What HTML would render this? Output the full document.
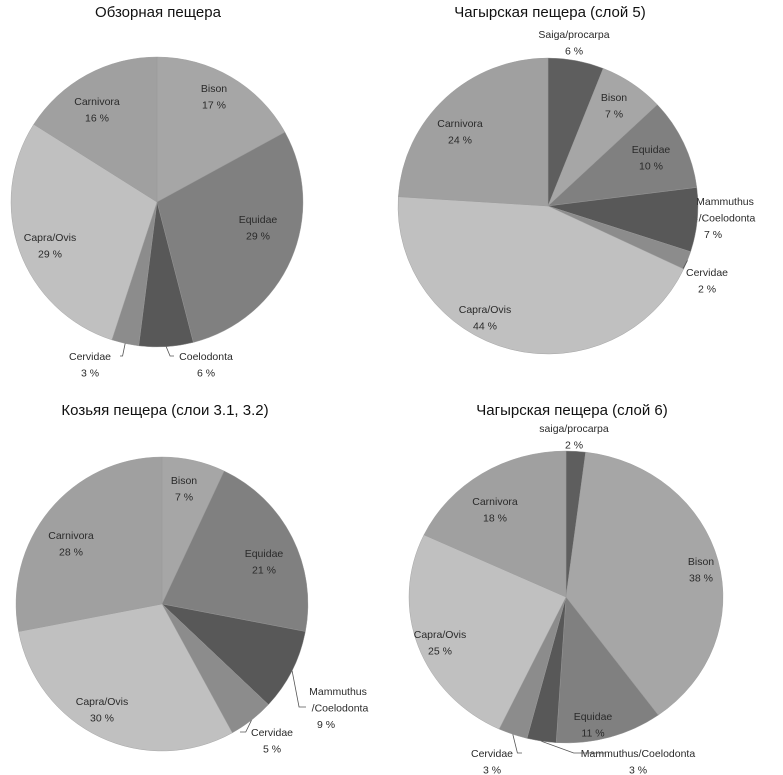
<!DOCTYPE html>
<html><head><meta charset="utf-8"><style>
body{margin:0;background:#fff;width:783px;height:775px;overflow:hidden}
svg{display:block}
text{font-family:"Liberation Sans",sans-serif}
.t{font-size:15px;fill:#111;text-anchor:middle}
.l{font-size:10.5px;fill:#2a2a2a;text-anchor:middle}
</style></head><body>
<svg id="c" width="783" height="775">
<text class="t" x="158" y="17">Обзорная пещера</text>
<text class="t" x="550" y="17">Чагырская пещера (слой 5)</text>
<text class="t" x="165" y="415">Козьяя пещера (слои 3.1, 3.2)</text>
<text class="t" x="572" y="415">Чагырская пещера (слой 6)</text>
</svg>
<script>
const cats1=["Bison","Equidae","Coelodonta","Cervidae","Capra/Ovis","Carnivora"];
const vals1=[17,29,6,3,29,16];
const cats2=["Saiga/procarpa","Bison","Equidae","Mammuthus/Coelodonta","Cervidae","Capra/Ovis","Carnivora"];
const vals2=[6,7,10,7,2,44,24];
const cats3=["Bison","Equidae","Mammuthus/Coelodonta","Cervidae","Capra/Ovis","Carnivora"];
const vals3=[7,21,9,5,30,28];
const cats4=["saiga/procarpa","Bison","Equidae","Mammuthus/Coelodonta","Cervidae","Capra/Ovis","Carnivora"];
const vals4=[2,38,11,3,3,25,18];

const colorOf={"Bison":"#a6a6a6","Equidae":"#808080","Coelodonta":"#585858","Mammuthus/Coelodonta":"#585858","Cervidae":"#8c8c8c","Capra/Ovis":"#c0c0c0","Carnivora":"#a0a0a0","Saiga/procarpa":"#5e5e5e","saiga/procarpa":"#5e5e5e"};
const NS="http://www.w3.org/2000/svg";
const svg=document.getElementById('c');

// layout (geometry, not data)
const charts=[
 {cats:cats1,vals:vals1,cx:157,cy:202,rx:146,ry:145,name:'obzornaya',
  labels:[[214,92],[258,223],[206,360,'ext'],[90,360,'ext'],[50,241],[97,105]]},
 {cats:cats2,vals:vals2,cx:548,cy:206,rx:150,ry:148,name:'chagyrskaya-5',
  labels:[[574,38,'ext'],[614,101],[651,153],[725,205,'ext2'],[707,276,'ext'],[485,313],[460,127]]},
 {cats:cats3,vals:vals3,cx:162,cy:604,rx:146,ry:147,name:'kozya',
  labels:[[184,484],[264,557],[338,695,'ext2'],[272,736,'ext'],[102,705],[71,539]]},
 {cats:cats4,vals:vals4,cx:566,cy:597,rx:157,ry:146,name:'chagyrskaya-6',
  labels:[[574,432,'ext'],[701,565],[593,720],[638,757,'ext'],[492,757,'ext'],[440,638],[495,505]]}
];

function pt(c,a){return [c.cx+c.rx*Math.sin(a), c.cy-c.ry*Math.cos(a)];}

charts.forEach((c,ci)=>{
  const tot=c.vals.reduce((s,v)=>s+v,0);
  let a0=0;
  c.vals.forEach((v,i)=>{
    const a1=a0+v/tot*2*Math.PI;
    const p0=pt(c,a0),p1=pt(c,a1);
    const large=(a1-a0)>Math.PI?1:0;
    const path=document.createElementNS(NS,'path');
    path.setAttribute('d',`M${c.cx},${c.cy}L${p0[0]},${p0[1]}A${c.rx},${c.ry} 0 ${large} 1 ${p1[0]},${p1[1]}Z`);
    path.setAttribute('fill',colorOf[c.cats[i]]);
    path.setAttribute('stroke','#9a9a9a');
    path.setAttribute('stroke-width','0.4');
    
    
    svg.appendChild(path);
    // label
    const L=c.labels[i];
    const mid=(a0+a1)/2, edge=pt(c,mid);
    const g=document.createElementNS(NS,'g');
    
    
    let lines;
    if(L[2]==='ext2'){const parts=c.cats[i].split('/');lines=[parts[0],'/'+parts[1],v+' %'];}
    else lines=[c.cats[i],v+' %'];
    lines.forEach((s,k)=>{
      const t=document.createElementNS(NS,'text');
      t.setAttribute('class','l');
      t.setAttribute('x',L[0]+(L[2]==='ext2'&&k===1?2:0)-(L[2]==='ext2'&&k===2?12:0));
      t.setAttribute('y',L[1]+k*16.5);
      t.textContent=s;
      g.appendChild(t);
    });
    if(L[2]==='ext'||L[2]==='ext2'){
      if(L[1]>edge[1]+4 || L[0]>edge[0]+15){
        const ln=document.createElementNS(NS,'polyline');
        const lx=L[0]<edge[0]?L[0]+30:L[0]-32, ly=L[2]==='ext2'?L[1]+12:L[1]-4;
        ln.setAttribute('points',`${edge[0]},${edge[1]} ${(edge[0]+lx)/2},${ly} ${lx},${ly}`);
        ln.setAttribute('fill','none');ln.setAttribute('stroke','#555');ln.setAttribute('stroke-width','0.8');
        g.appendChild(ln);
      }
    }
    svg.appendChild(g);
    a0=a1;
  });
});
</script>
</body></html>
